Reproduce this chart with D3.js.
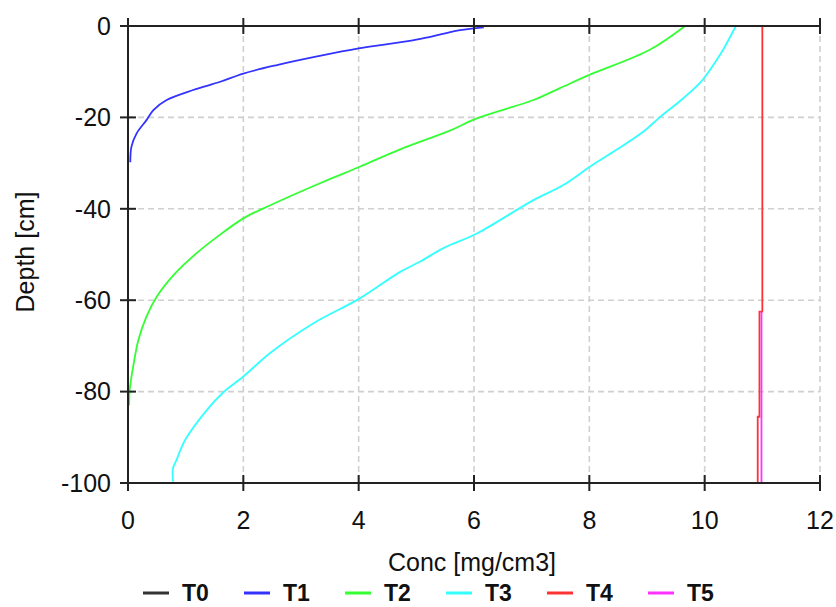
<!DOCTYPE html>
<html>
<head>
<meta charset="utf-8">
<script src="https://cdn.jsdelivr.net/npm/d3@7"></script>
<style>
  html, body { margin: 0; padding: 0; background: #fff; }
  svg { display: block; font-family: "Liberation Sans", Arial, sans-serif; }
</style>
</head>
<body>
<svg id="chart" width="836" height="607"></svg>
<script>
// Concentration profiles [conc (mg/cm3), depth (cm)] for each time step
const seriesNames = ["T0", "T1", "T2", "T3", "T4", "T5"];
const seriesColors = ["#333333", "#3333ff", "#33ff33", "#33ffff", "#ff3333", "#ff33ff"];

const T0 = [[0, 0], [0, -100]];
const T1 = [[6.17, -0.3], [5.76, -0.9], [5.5, -1.6], [5.0, -3.0], [4.0, -4.9], [3.3, -6.6],
            [2.6, -8.5], [2.0, -10.4], [1.6, -12.2], [1.13, -14.0], [0.67, -16.2],
            [0.44, -18.4], [0.32, -20.6], [0.15, -23.5], [0.06, -26.4], [0.04, -29.8]];
const T2 = [[9.66, 0], [9.05, -5.2], [8.0, -10.7], [7.49, -13.6], [7.03, -16.2],
            [6.05, -20.2], [5.58, -22.9], [4.72, -27.0], [4.02, -30.8], [3.33, -34.4],
            [2.35, -39.9], [2.0, -42.1], [1.54, -46.2], [1.19, -49.7], [0.79, -54.5],
            [0.5, -59.2], [0.32, -63.6], [0.18, -68.7], [0.09, -74.5], [0.03, -79.6],
            [0.02, -83.0]];
const T3 = [[10.54, 0], [10.32, -5.2], [10.21, -7.4], [9.95, -12.0], [9.63, -15.8],
            [9.2, -20.2], [8.94, -23.1], [8.47, -27.1], [8.01, -30.8], [7.55, -34.8],
            [7.03, -38.1], [6.05, -45.4], [5.47, -48.6], [5.06, -51.6], [4.72, -53.8],
            [4.02, -59.6], [3.21, -65.1], [2.46, -71.6], [2.0, -76.7], [1.65, -80.2],
            [1.37, -84.0], [0.99, -90.6], [0.84, -95.0], [0.78, -96.8], [0.78, -99.7]];
const T4 = [[11.0, 0], [11.0, -62.5], [10.95, -62.5], [10.95, -85.5], [10.92, -85.5], [10.92, -100]];
const T5 = [[10.985, -62.5], [10.985, -100]];

const seriesData = [T0, T1, T2, T3, T4, T5];
// smooth profiles get a spline, step profiles stay straight
const seriesSmooth = [false, true, true, true, false, false];

const xTicks = [0, 2, 4, 6, 8, 10, 12];
const yTicks = [0, -20, -40, -60, -80, -100];

const xTitle = "Conc [mg/cm3]";
const yTitle = "Depth [cm]";

const svg = d3.select("#chart");

const x = d3.scaleLinear().domain([0, 12]).range([128, 820]);
const y = d3.scaleLinear().domain([-100, 0]).range([483, 26]);

const axisColor = "#222";
const tickHalf = 8;

// dashed grid
const grid = svg.append("g");
grid.selectAll("line.gx").data(xTicks.filter(d => d !== 0)).join("line")
  .attr("x1", d => x(d)).attr("x2", d => x(d))
  .attr("y1", y(0)).attr("y2", y(-100))
  .attr("stroke", "#d0d0d0").attr("stroke-width", 1.6).attr("stroke-dasharray", "6,4");
grid.selectAll("line.gy").data(yTicks.filter(d => d !== 0 && d !== -100)).join("line")
  .attr("x1", x(0)).attr("x2", x(12))
  .attr("y1", d => y(d)).attr("y2", d => y(d))
  .attr("stroke", "#d0d0d0").attr("stroke-width", 1.6).attr("stroke-dasharray", "6,4");

// profile lines
const straight = d3.line().x(d => x(d[0])).y(d => y(d[1]));
const smooth = d3.line().x(d => x(d[0])).y(d => y(d[1])).curve(d3.curveCatmullRom.alpha(0.5));
svg.append("g").selectAll("path").data(seriesData).join("path")
  .attr("d", (d, i) => (seriesSmooth[i] ? smooth : straight)(d))
  .attr("fill", "none")
  .attr("stroke", (d, i) => seriesColors[i])
  .attr("stroke-width", 1.8);

// axes: left, top (y=0) and bottom (y=-100) lines with crossing ticks
const ax = svg.append("g").attr("stroke", axisColor).attr("stroke-width", 2);
ax.append("line").attr("x1", x(0)).attr("x2", x(0)).attr("y1", y(0)).attr("y2", y(-100));
ax.append("line").attr("x1", x(0)).attr("x2", x(12)).attr("y1", y(0)).attr("y2", y(0));
ax.append("line").attr("x1", x(0)).attr("x2", x(12)).attr("y1", y(-100)).attr("y2", y(-100));

[y(0), y(-100)].forEach(yy => {
  ax.selectAll(null).data(xTicks).join("line")
    .attr("x1", d => x(d)).attr("x2", d => x(d))
    .attr("y1", yy - tickHalf).attr("y2", yy + tickHalf);
});
ax.selectAll(null).data(yTicks).join("line")
  .attr("x1", x(0) - tickHalf).attr("x2", x(0) + tickHalf)
  .attr("y1", d => y(d)).attr("y2", d => y(d));

// tick labels
svg.append("g").selectAll("text").data(xTicks).join("text")
  .attr("x", d => x(d)).attr("y", 529)
  .attr("text-anchor", "middle").attr("font-size", 25).attr("fill", "#111")
  .text(d => d);
svg.append("g").selectAll("text").data(yTicks).join("text")
  .attr("x", 111).attr("y", d => y(d)).attr("dy", "0.35em")
  .attr("text-anchor", "end").attr("font-size", 25).attr("fill", "#111")
  .text(d => d);

// axis titles
svg.append("text").attr("x", 472).attr("y", 571)
  .attr("text-anchor", "middle").attr("font-size", 25).attr("fill", "#111")
  .text(xTitle);
svg.append("text").attr("transform", "translate(34,252) rotate(-90)")
  .attr("text-anchor", "middle").attr("font-size", 25).attr("fill", "#111")
  .text(yTitle);

// legend
const legend = svg.append("g").selectAll("g").data(seriesNames).join("g")
  .attr("transform", (d, i) => `translate(${143 + i * 101},593)`);
legend.append("line").attr("x1", 0).attr("x2", 26).attr("y1", 0).attr("y2", 0)
  .attr("stroke", (d, i) => seriesColors[i]).attr("stroke-width", 3);
legend.append("text").attr("x", 39).attr("y", 8)
  .attr("font-size", 23).attr("font-weight", "bold").attr("fill", "#111")
  .text(d => d);
</script>
</body>
</html>
